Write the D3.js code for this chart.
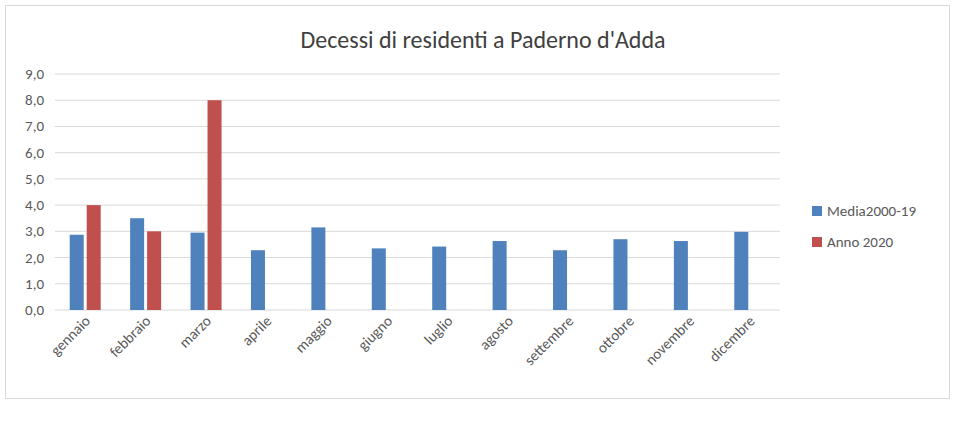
<!DOCTYPE html>
<html><head><meta charset="utf-8">
<script src="https://cdn.jsdelivr.net/npm/d3@7"></script>
<style>body{margin:0;background:#fff;font-family:Calibri,Carlito,"Open Sans",sans-serif}</style>
</head><body><svg id="chart" width="956" height="444"></svg>
<script>
// Data
let months = ['gennaio','febbraio','marzo','aprile','maggio','giugno','luglio','agosto','settembre','ottobre','novembre','dicembre'];
let media = [2.87, 3.5, 2.95, 2.28, 3.15, 2.35, 2.42, 2.63, 2.28, 2.7, 2.63, 2.98];
let anno2020 = [4, 3, 8, null, null, null, null, null, null, null, null, null];
let seriesNames = ['Media2000-19', 'Anno 2020'];
let colors = ['#4f81bd', '#c0504d'];
let yTicks = d3.range(0, 10, 1);

let svg = d3.select('#chart');
svg.append('rect').attr('x', 5.5).attr('y', 5.5).attr('width', 944).attr('height', 393)
    .attr('fill', '#fff').attr('stroke', '#d9d9d9');

svg.append('text').attr('x', 483).attr('y', 48).attr('text-anchor', 'middle')
    .attr('font-size', 24).attr('fill', '#404040').text("Decessi di residenti a Paderno d'Adda");

let x = d3.scaleBand().domain(months).range([55, 780]);
let y = d3.scaleLinear().domain([0, 9]).range([310, 74]);

// Gridlines
svg.selectAll('.grid').data(yTicks).enter().append('line')
    .attr('x1', 55).attr('x2', 780)
    .attr('y1', d => y(d)).attr('y2', d => y(d))
    .attr('stroke', '#d9d9d9');

svg.selectAll('.ylab').data(yTicks).enter().append('text')
    .attr('x', 44).attr('y', d => y(d) + 5).attr('text-anchor', 'end')
    .attr('font-size', 15).attr('fill', '#595959')
    .text(d => d.toFixed(1).replace('.', ','));

let bw = 14;
svg.selectAll('.b1').data(months).enter().append('rect')
    .attr('x', d => x(d) + x.bandwidth() / 2 - bw - 1.5)
    .attr('y', (d, i) => y(media[i])).attr('width', bw)
    .attr('height', (d, i) => y(0) - y(media[i])).attr('fill', colors[0]);

svg.selectAll('.b2').data(months.filter((d, i) => anno2020[i] != null)).enter().append('rect')
    .attr('x', d => x(d) + x.bandwidth() / 2 + 1.5)
    .attr('y', (d, i) => y(anno2020[i])).attr('width', bw)
    .attr('height', (d, i) => y(0) - y(anno2020[i])).attr('fill', colors[1]);

svg.selectAll('.xlab').data(months).enter().append('text')
    .attr('transform', d => `translate(${x(d) + x.bandwidth() / 2 + 6},${322}) rotate(-45)`)
    .attr('text-anchor', 'end').attr('font-size', 15).attr('fill', '#595959').text(d => d);

// Legend
seriesNames.forEach((n, i) => {
    let ly = 211 + i * 31;
    svg.append('rect').attr('x', 812).attr('y', ly - 5).attr('width', 10).attr('height', 10).attr('fill', colors[i]);
    svg.append('text').attr('x', 827).attr('y', ly + 5).attr('font-size', 15).attr('fill', '#595959').text(n);
});
</script></body></html>
